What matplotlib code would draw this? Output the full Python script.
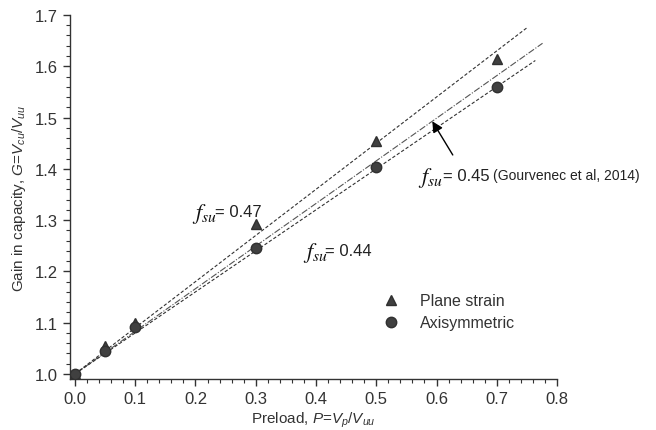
import numpy as np
import matplotlib
matplotlib.use('Agg')
import matplotlib.pyplot as plt
from matplotlib.ticker import MultipleLocator

plt.rcParams['font.family'] = ['Liberation Sans', 'DejaVu Sans']
plt.rcParams['mathtext.fontset'] = 'custom'
plt.rcParams['mathtext.it'] = 'Liberation Sans:italic'
plt.rcParams['mathtext.rm'] = 'Liberation Sans'

# Data
preload = [0.0, 0.05, 0.1, 0.3, 0.5, 0.7]
gain_plane = [1.0, 1.054, 1.10, 1.292, 1.454, 1.615]
gain_axi = [1.0, 1.045, 1.091, 1.246, 1.404, 1.559]

# fitted lines: slope of G vs P and end preload
fsu_labels = ['0.47', '0.45', '0.44']
fit_slopes = [0.90, 0.831, 0.80]
fit_ends = [0.751, 0.776, 0.764]
fit_styles = [(0, (3, 1.8)), (0, (6, 1.5, 1, 1.5)), (0, (3, 1.8))]
fit_colors = ['#333333', '#555555', '#333333']

fig = plt.figure(figsize=(6.56, 4.31), dpi=100)
ax = fig.add_axes([0.1067, 0.1183, 0.7424, 0.8446])

for s, e, ls, c in zip(fit_slopes, fit_ends, fit_styles, fit_colors):
    p = np.array([0.0, e])
    ax.plot(p, 1 + s * p, color=c, lw=0.8, linestyle=ls, zorder=2)

ax.plot(preload, gain_plane, linestyle='none', marker='^', ms=7.5, color='#404040',
        mec='#303030', label='Plane strain', zorder=3)
ax.plot(preload, gain_axi, linestyle='none', marker='o', ms=7.5, color='#404040',
        mec='#303030', label='Axisymmetric', zorder=3)

ax.set_xlim(-0.0083, 0.8)
ax.set_ylim(0.99, 1.7)
ax.xaxis.set_major_locator(MultipleLocator(0.1))
ax.xaxis.set_minor_locator(MultipleLocator(0.02))
ax.yaxis.set_major_locator(MultipleLocator(0.1))
ax.yaxis.set_minor_locator(MultipleLocator(0.02))
ax.xaxis.set_major_formatter(plt.FormatStrFormatter('%.1f'))
ax.yaxis.set_major_formatter(plt.FormatStrFormatter('%.1f'))
for side in ['top', 'right']:
    ax.spines[side].set_visible(False)
for side in ['left', 'bottom']:
    ax.spines[side].set_color('#333333')
    ax.spines[side].set_linewidth(1.0)
ax.tick_params(which='major', length=5, width=1, color='#333333', labelsize=12,
               labelcolor='#333333')
ax.tick_params(which='minor', length=3, width=0.8, color='#333333')

ax.set_xlabel('Preload, $P$=$V_p$/$V_{uu}$', fontsize=11, color='#333333', labelpad=3)
ax.set_ylabel('Gain in capacity, $G$=$V_{cu}$/$V_{uu}$', fontsize=11, color='#333333',
              labelpad=5)

# f_su annotations: (f position, '=' position, centre height)
ann = [(0.195, 0.2326, 1.316, fsu_labels[0]),
       (0.379, 0.415, 1.240, fsu_labels[2]),
       (0.570, 0.611, 1.387, fsu_labels[1])]
for xf, xe, yc, lab in ann:
    ax.text(xf, yc - 0.012, r'$f_{su}$', fontsize=16, math_fontfamily='stix',
            va='baseline', color='#111111')
    ax.text(xe, yc, '= ' + lab, fontsize=12, va='center', color='#222222')
ax.text(0.694, 1.387, '(Gourvenec et al, 2014)', fontsize=10, va='center', color='#222222')

pa = 0.593
ax.annotate('', xy=(pa, 1 + fit_slopes[1] * pa), xytext=(0.627, 1.427),
            arrowprops=dict(arrowstyle='-|>', color='black', lw=1.0,
                            mutation_scale=16, shrinkA=0, shrinkB=0))

leg = ax.legend(loc='upper left', bbox_to_anchor=(0.61, 0.275), frameon=False,
                fontsize=11.5, handletextpad=1.2, labelspacing=0.45, handlelength=1.2)
for t in leg.get_texts():
    t.set_color('#333333')

fig.savefig('out.png', dpi=100)
